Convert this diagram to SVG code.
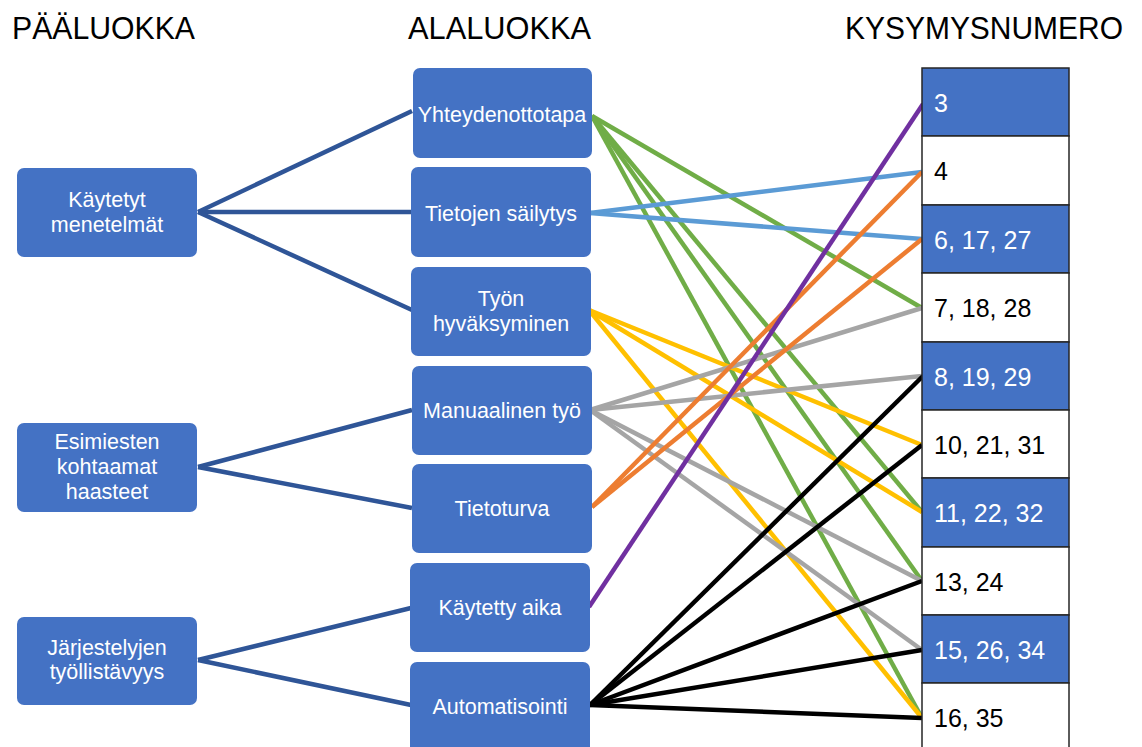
<svg xmlns="http://www.w3.org/2000/svg" width="1142" height="747" viewBox="0 0 1142 747">
<style>
.hdr{font-family:"Liberation Sans",Arial,sans-serif;font-size:32px;fill:#000}
.box{fill:#4472C4}
.bt{font-family:"Liberation Sans",Arial,sans-serif;font-size:21.5px;fill:#fff;text-anchor:middle}
.nt{font-family:"Liberation Sans",Arial,sans-serif;font-size:25px}
.blue{fill:#4472C4;stroke:#262626;stroke-width:1.5}
.white{fill:#fff;stroke:#262626;stroke-width:1.5}
.tw{fill:#fff}
.tb{fill:#000}
.c{fill:none;stroke-width:4.5;stroke-linecap:butt}
.tree{stroke:#2F5597}
.g{stroke:#70AD47}
.lb{stroke:#5B9BD5}
.y{stroke:#FFC000}
.gr{stroke:#A5A5A5}
.o{stroke:#ED7D31}
.p{stroke:#7030A0}
.k{stroke:#000}
</style>
<rect width="1142" height="747" fill="#fff"/>
<g id="headers">
<text class="hdr" x="12" y="39" textLength="183" lengthAdjust="spacingAndGlyphs">PÄÄLUOKKA</text>
<text class="hdr" x="408" y="39" textLength="183" lengthAdjust="spacingAndGlyphs">ALALUOKKA</text>
<text class="hdr" x="845" y="39" textLength="278" lengthAdjust="spacingAndGlyphs">KYSYMYSNUMERO</text>
</g>
<g id="connectors">
<line class="c tree" x1="198" y1="212" x2="412" y2="111"/>
<line class="c tree" x1="198" y1="212" x2="412" y2="212"/>
<line class="c tree" x1="198" y1="212" x2="412" y2="310"/>
<line class="c tree" x1="198" y1="467" x2="412" y2="410"/>
<line class="c tree" x1="198" y1="467" x2="412" y2="508"/>
<line class="c tree" x1="198" y1="660" x2="411" y2="608"/>
<line class="c tree" x1="198" y1="660" x2="411" y2="705"/>
<line class="c g" x1="592" y1="116" x2="922" y2="308"/>
<line class="c g" x1="592" y1="116" x2="922" y2="512"/>
<line class="c g" x1="592" y1="116" x2="922" y2="581"/>
<line class="c g" x1="592" y1="116" x2="922" y2="718"/>
<line class="c lb" x1="590" y1="213" x2="922" y2="172"/>
<line class="c lb" x1="590" y1="213" x2="922" y2="239"/>
<line class="c y" x1="589" y1="310" x2="922" y2="445"/>
<line class="c y" x1="589" y1="310" x2="922" y2="512"/>
<line class="c y" x1="589" y1="310" x2="922" y2="718"/>
<line class="c gr" x1="590" y1="410" x2="922" y2="308"/>
<line class="c gr" x1="590" y1="410" x2="922" y2="376"/>
<line class="c gr" x1="590" y1="410" x2="922" y2="581"/>
<line class="c gr" x1="590" y1="410" x2="922" y2="650"/>
<line class="c o" x1="592" y1="507" x2="922" y2="172"/>
<line class="c o" x1="592" y1="507" x2="922" y2="239"/>
<line class="c p" x1="589" y1="607" x2="923" y2="104"/>
<line class="c k" x1="590" y1="705" x2="923" y2="376"/>
<line class="c k" x1="590" y1="705" x2="922" y2="445"/>
<line class="c k" x1="590" y1="705" x2="922" y2="581"/>
<line class="c k" x1="590" y1="705" x2="922" y2="650"/>
<line class="c k" x1="590" y1="705" x2="922" y2="718"/>
</g>
<g id="main-kaytetyt">
<rect class="box" x="17" y="168" width="180" height="89" rx="7"/>
<text class="bt" x="107" y="207">Käytetyt</text>
<text class="bt" x="107" y="232">menetelmät</text>
</g>
<g id="main-esimiesten">
<rect class="box" x="17" y="423" width="180" height="89" rx="7"/>
<text class="bt" x="107" y="449">Esimiesten</text>
<text class="bt" x="107" y="474">kohtaamat</text>
<text class="bt" x="107" y="499">haasteet</text>
</g>
<g id="main-jarjestelyjen">
<rect class="box" x="17" y="617" width="180" height="88" rx="7"/>
<text class="bt" x="107" y="655">Järjestelyjen</text>
<text class="bt" x="107" y="679">työllistävyys</text>
</g>
<g id="sub-yhteydenottotapa">
<rect class="box" x="413" y="68" width="179" height="90" rx="7"/>
<text class="bt" x="502" y="122">Yhteydenottotapa</text>
</g>
<g id="sub-tietojen">
<rect class="box" x="411" y="167" width="180" height="90" rx="7"/>
<text class="bt" x="501" y="221">Tietojen säilytys</text>
</g>
<g id="sub-tyon">
<rect class="box" x="411" y="267" width="180" height="89" rx="7"/>
<text class="bt" x="501" y="306">Työn</text>
<text class="bt" x="501" y="331">hyväksyminen</text>
</g>
<g id="sub-manuaalinen">
<rect class="box" x="412" y="366" width="180" height="89" rx="7"/>
<text class="bt" x="502" y="418">Manuaalinen työ</text>
</g>
<g id="sub-tietoturva">
<rect class="box" x="412" y="464" width="180" height="89" rx="7"/>
<text class="bt" x="502" y="516">Tietoturva</text>
</g>
<g id="sub-kaytetty-aika">
<rect class="box" x="410" y="563" width="180" height="89" rx="7"/>
<text class="bt" x="500" y="615">Käytetty aika</text>
</g>
<g id="sub-automatisointi">
<rect class="box" x="410" y="662" width="180" height="95" rx="7"/>
<text class="bt" x="500" y="714">Automatisointi</text>
</g>
<g id="table">
<rect class="blue" x="922" y="68" width="147" height="68"/>
<rect class="white" x="922" y="136" width="147" height="69"/>
<rect class="blue" x="922" y="205" width="147" height="68"/>
<rect class="white" x="922" y="273" width="147" height="69"/>
<rect class="blue" x="922" y="342" width="147" height="68"/>
<rect class="white" x="922" y="410" width="147" height="68"/>
<rect class="blue" x="922" y="478" width="147" height="69"/>
<rect class="white" x="922" y="547" width="147" height="68"/>
<rect class="blue" x="922" y="615" width="147" height="68"/>
<rect class="white" x="922" y="683" width="147" height="70"/>
<text class="nt tw" x="934" y="112">3</text>
<text class="nt tb" x="934" y="180">4</text>
<text class="nt tw" x="934" y="249">6, 17, 27</text>
<text class="nt tb" x="934" y="317">7, 18, 28</text>
<text class="nt tw" x="934" y="386">8, 19, 29</text>
<text class="nt tb" x="934" y="454">10, 21, 31</text>
<text class="nt tw" x="934" y="522">11, 22, 32</text>
<text class="nt tb" x="934" y="591">13, 24</text>
<text class="nt tw" x="934" y="659">15, 26, 34</text>
<text class="nt tb" x="934" y="727">16, 35</text>
</g>
</svg>
